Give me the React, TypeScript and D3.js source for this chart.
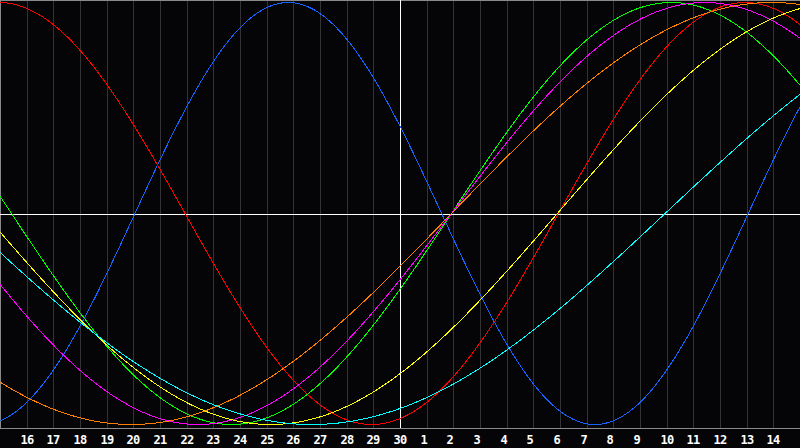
import React, { useEffect } from "react";
import * as d3 from "d3";

// Day labels along the bottom (one per gridline)
const dayLabels = [
  "16", "17", "18", "19", "20", "21", "22", "23", "24", "25", "26", "27", "28", "29", "30",
  "1", "2", "3", "4", "5", "6", "7", "8", "9", "10", "11", "12", "13", "14",
];
const todayIndex = 14; // "30" - the white vertical marker

// Biorhythm cycles
const cycleNames = ["Physical", "Emotional", "Intellectual", "Intuitive", "Aesthetic", "Awareness", "Spiritual"];
const cyclePeriods = [23, 28, 33, 38, 43, 48, 53];
// day index at which each cycle crosses zero going upward
const cycleZeroDays = [4.06, 19.94, 15.93, 15.93, 19.9, 15.93, 23.94];
const cycleColors = ["#1763ff", "#ff0000", "#00ff00", "#ff00ff", "#ffff00", "#ff8000", "#00ffff"];

const W = 800;
const H = 448;

export default function App() {
  useEffect(() => {
    document.body.style.margin = "0";
    document.body.style.background = "#050507";
  }, []);

  const x = d3.scaleLinear().domain([-1, dayLabels.length]).range([0, W]);
  const y = d3.scaleLinear().domain([-1, 1]).range([424.5, 2.5]);
  const axisY = 428;

  const samples = d3.range(-1, dayLabels.length + 0.001, 0.02);
  const line = d3
    .line<number>()
    .x((d) => x(d[0] as any))
    .y((d) => y(d[1] as any)) as any;

  const paths = cyclePeriods.map((p, k) => {
    const pts = samples.map((t) => [t, Math.sin((2 * Math.PI * (t - cycleZeroDays[k])) / p)]);
    return line(pts);
  });

  return (
    <svg width={W} height={H} style={{ display: "block", background: "#050507" }}>
      <rect x={0} y={0} width={W} height={H} fill="#050507" />
      {dayLabels.map((d, i) => (
        <line
          key={"g" + i}
          x1={Math.round(x(i)) + 0.5}
          x2={Math.round(x(i)) + 0.5}
          y1={0}
          y2={axisY}
          stroke="#333336"
          strokeWidth={1}
          shapeRendering="crispEdges"
        />
      ))}
      {/* borders */}
      <line x1={0.5} x2={0.5} y1={0} y2={axisY} stroke="#8a8a8a" shapeRendering="crispEdges" />
      <line x1={0} x2={W} y1={0.5} y2={0.5} stroke="#8a8a8a" shapeRendering="crispEdges" />
      <line x1={0} x2={W} y1={axisY + 0.5} y2={axisY + 0.5} stroke="#8a8a8a" shapeRendering="crispEdges" />
      {/* center markers */}
      <line
        x1={Math.round(x(todayIndex)) + 0.5}
        x2={Math.round(x(todayIndex)) + 0.5}
        y1={0}
        y2={axisY}
        stroke="#ffffff"
        shapeRendering="crispEdges"
      />
      <line x1={0} x2={W} y1={214.5} y2={214.5} stroke="#ffffff" shapeRendering="crispEdges" />
      {paths.map((d, k) => (
        <path
          key={cycleNames[k]}
          d={d}
          fill="none"
          stroke={cycleColors[k]}
          strokeWidth={1}
          shapeRendering="crispEdges"
        />
      ))}
      {dayLabels.map((d, i) => (
        <text
          key={"t" + i}
          x={Math.round(x(i)) - 6.5}
          y={443.5}
          fill="#ffffff"
          fontFamily="'DejaVu Sans Mono', monospace"
          fontWeight="bold"
          fontSize={12}
          letterSpacing={-0.6}
        >
          {d}
        </text>
      ))}
    </svg>
  );
}
